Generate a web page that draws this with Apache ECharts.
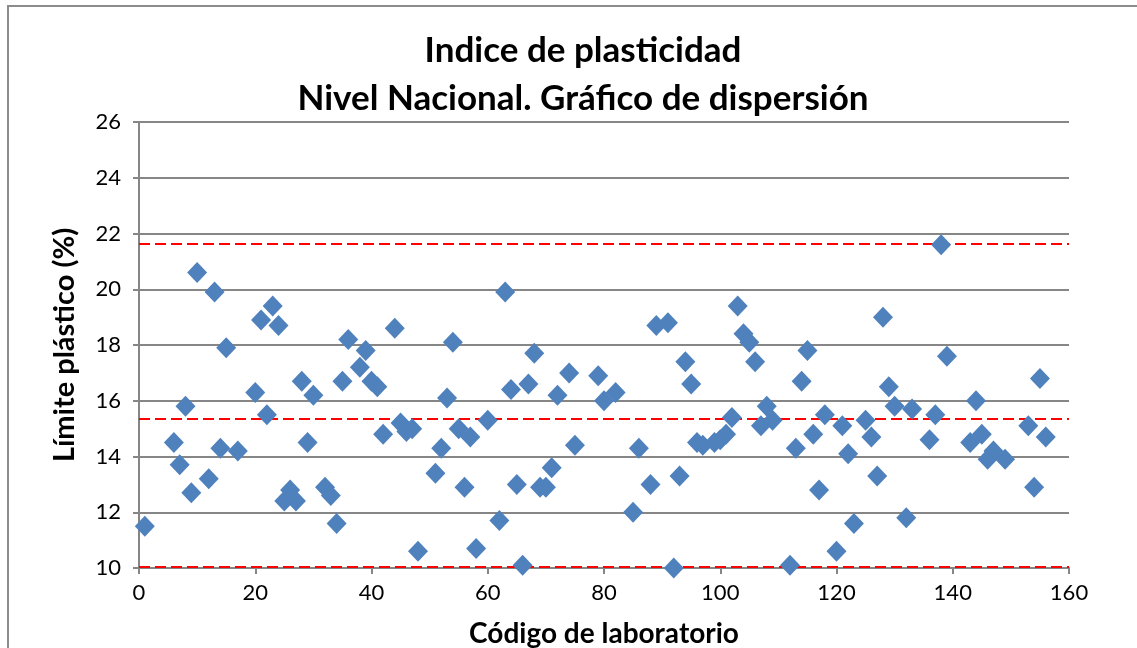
<!DOCTYPE html>
<html>
<head>
<meta charset="utf-8">
<script src="https://cdn.jsdelivr.net/npm/echarts@6/dist/echarts.min.js"></script>
<style>
  html, body { margin: 0; padding: 0; background: #ffffff; }
  #chart { width: 1137px; height: 648px; }
</style>
</head>
<body>
<div id="chart"></div>
<script>
  // código de laboratorio
  var labCodes = [1, 6, 7, 8, 9, 10, 12, 13, 14, 15, 17, 20, 21, 22, 23, 24, 25, 26, 27, 28, 29, 30,
    32, 33, 34, 35, 36, 38, 39, 40, 41, 42, 44, 45, 46, 47, 48, 51, 52, 53, 54, 55, 56, 57, 58, 60,
    62, 63, 64, 65, 66, 67, 68, 69, 70, 71, 72, 74, 75, 79, 80, 82, 85, 86, 88, 89, 91, 92, 93, 94,
    95, 96, 97, 99, 100, 101, 102, 103, 104, 105, 106, 107, 108, 109, 112, 113, 114, 115, 116, 117,
    118, 120, 121, 122, 123, 125, 126, 127, 128, 129, 130, 132, 133, 136, 137, 138, 139, 143, 144,
    145, 146, 147, 149, 153, 154, 155, 156]
  // límite plástico (%)
  var plValues = [11.5, 14.5, 13.7, 15.8, 12.7, 20.6, 13.2, 19.9, 14.3, 17.9, 14.2, 16.3, 18.9, 15.5,
    19.4, 18.7, 12.4, 12.8, 12.4, 16.7, 14.5, 16.2, 12.9, 12.6, 11.6, 16.7, 18.2, 17.2, 17.8, 16.7,
    16.5, 14.8, 18.6, 15.2, 14.9, 15.0, 10.6, 13.4, 14.3, 16.1, 18.1, 15.0, 12.9, 14.7, 10.7, 15.3,
    11.7, 19.9, 16.4, 13.0, 10.1, 16.6, 17.7, 12.9, 12.9, 13.6, 16.2, 17.0, 14.4, 16.9, 16.0, 16.3,
    12.0, 14.3, 13.0, 18.7, 18.8, 10.0, 13.3, 17.4, 16.6, 14.5, 14.4, 14.5, 14.6, 14.8, 15.4, 19.4,
    18.4, 18.1, 17.4, 15.1, 15.8, 15.3, 10.1, 14.3, 16.7, 17.8, 14.8, 12.8, 15.5, 10.6, 15.1, 14.1,
    11.6, 15.3, 14.7, 13.3, 19.0, 16.5, 15.8, 11.8, 15.7, 14.6, 15.5, 21.6, 17.6, 14.5, 16.0, 14.8,
    13.9, 14.2, 13.9, 15.1, 12.9, 16.8, 14.7]
  // límites: superior, media, inferior
  var limitLines = [21.62, 15.36, 10.06]

  var points = labCodes.map(function (c, i) { return [c, plValues[i]] })

  var chart = echarts.init(document.getElementById('chart'))
  var option = {
    backgroundColor: '#ffffff',
    animation: false,
    textStyle: { fontFamily: 'Lato' },
    graphic: [{
      type: 'rect',
      shape: { x: 8, y: 6, width: 1160, height: 680 },
      style: { fill: 'none', stroke: '#8c8c8c', lineWidth: 2 },
      silent: true
    }],
    title: {
      text: 'Indice de plasticidad\nNivel Nacional. Gráfico de dispersión',
      left: 578,
      top: 22,
      textAlign: 'center',
      textStyle: { fontFamily: 'Lato', fontSize: 35, fontWeight: 'bold', color: '#000', lineHeight: 48 }
    },
    grid: { left: 139, top: 122, right: 68, bottom: 80, outerBoundsMode: 'none' },
    xAxis: {
      type: 'value',
      min: 0,
      max: 160,
      interval: 20,
      name: 'Código de laboratorio',
      nameLocation: 'middle',
      nameGap: 52,
      nameTextStyle: { fontFamily: 'Lato', fontSize: 28, fontWeight: 'bold', color: '#000' },
      axisLine: { show: true, lineStyle: { color: '#868686', width: 2 } },
      axisTick: { show: true, length: 6, lineStyle: { color: '#868686', width: 2 } },
      axisLabel: { fontSize: 22, color: '#000', margin: 14 },
      splitLine: { show: false }
    },
    yAxis: {
      type: 'value',
      min: 10,
      max: 26,
      interval: 2,
      name: 'Límite plástico (%)',
      nameLocation: 'middle',
      nameGap: 60,
      nameTextStyle: { fontFamily: 'Lato', fontSize: 29, fontWeight: 'bold', color: '#000' },
      axisLine: { show: true, lineStyle: { color: '#868686', width: 2 } },
      axisTick: { show: true, length: 6, lineStyle: { color: '#868686', width: 2 } },
      axisLabel: { fontSize: 22, color: '#000', margin: 18 },
      splitLine: { lineStyle: { color: '#868686', width: 2 } }
    },
    series: [{
      type: 'scatter',
      data: points,
      symbol: 'diamond',
      symbolSize: [20, 21],
      itemStyle: { color: '#4f81bd', opacity: 1 },
      z: 3,
      markLine: {
        silent: true,
        symbol: 'none',
        label: { show: false },
        lineStyle: { color: '#ff0000', width: 2, type: [11, 5] },
        data: limitLines.map(function (v) { return { yAxis: v } }),
        z: 2
      }
    }]
  }
  chart.setOption(option)
</script>
</body>
</html>
